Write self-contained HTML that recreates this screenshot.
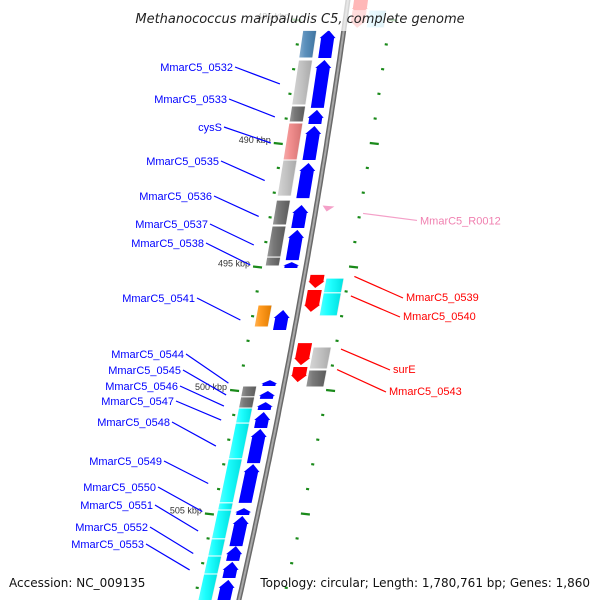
<!DOCTYPE html>
<html><head><meta charset="utf-8"><style>
html,body{margin:0;padding:0;background:#fff;}
svg{display:block;font-family:"Liberation Sans","DejaVu Sans",sans-serif;}
</style></head><body>
<svg id="map" width="600" height="600" viewBox="0 0 600 600">
<defs>
<linearGradient id="shade" x1="0" x2="1" y1="0" y2="0">
<stop offset="0" stop-color="#fff" stop-opacity="0.35"/>
<stop offset="0.35" stop-color="#fff" stop-opacity="0.12"/>
<stop offset="1" stop-color="#000" stop-opacity="0.12"/>
</linearGradient>
</defs>
<g id="ticks"></g>
<g id="feats"></g>
<g id="labels"></g>
<rect x="120" y="0" width="360" height="31" fill="#fff" opacity="0.72"/>
<text x="300" y="23" text-anchor="middle" font-size="13" font-style="italic" fill="#222" style="font-family:'DejaVu Sans',sans-serif">Methanococcus maripaludis C5, complete genome</text>
<text x="9" y="587" font-size="12" fill="#111" style="font-family:'DejaVu Sans',sans-serif">Accession: NC_009135</text>
<text x="590" y="587" text-anchor="end" font-size="12" fill="#111" style="font-family:'DejaVu Sans',sans-serif">Topology: circular; Length: 1,780,761 bp; Genes: 1,860</text>
</svg>
<script>
// ---- data (kbp positions) ----
const fwdArrowStart = [485.43,486.64,488.66,489.31,490.81,492.51,493.52,494.82,496.76,499.60,500.04,500.49,500.89,501.58,503.00,504.78,505.10,506.32,506.96,507.69];
const fwdArrowEnd   = [486.56,488.58,489.23,490.69,492.23,493.44,494.74,495.06,497.57,499.84,500.36,500.81,501.54,502.96,504.57,505.06,506.32,506.92,507.61,508.60];
const fwdBoxStart = [485.43,486.64,488.50,489.19,490.69,492.31,493.36,494.62,496.56,499.84,500.28,500.73,501.34,502.79,504.57,504.86,506.03,506.72,507.45];
const fwdBoxEnd   = [486.56,488.46,489.15,490.69,492.15,493.32,494.62,494.98,497.45,500.28,500.73,501.34,502.79,504.57,504.86,506.03,506.72,507.45,508.60];
const fwdBoxColor = ["#4682b4","#c0c0c0","#666666","#f08080","#c0c0c0","#666666","#666666","#666666","#ff8c00","#666666","#666666","#00ffff","#00ffff","#00ffff","#00ffff","#00ffff","#00ffff","#00ffff","#00ffff"];
const revArrowStart = [484.10,484.62,495.34,495.95,498.10,499.07];
const revArrowEnd   = [484.82,485.34,495.87,496.84,498.99,499.68];
const revArrowColor = ["#ff0000","#ff8080","#ff0000","#ff0000","#ff0000","#ff0000"];
const revBoxStart = [484.62,495.47,496.07,498.26,499.19];
const revBoxEnd   = [485.34,496.07,497.00,499.15,499.88];
const revBoxColor = ["#a0e8ff","#00ffff","#00ffff","#c0c0c0","#666666"];
const leftLabels = ["MmarC5_0532","MmarC5_0533","cysS","MmarC5_0535","MmarC5_0536","MmarC5_0537","MmarC5_0538","MmarC5_0541","MmarC5_0544","MmarC5_0545","MmarC5_0546","MmarC5_0547","MmarC5_0548","MmarC5_0549","MmarC5_0550","MmarC5_0551","MmarC5_0552","MmarC5_0553"];
const leftLabelGene = [1,2,3,4,5,6,7,8,9,10,11,12,13,14,15,16,17,18];
const rightLabels = ["MmarC5_0539","MmarC5_0540","surE","MmarC5_0543"];
const rightLabelGene = [2,3,4,5];
const rnaLabel = "MmarC5_R0012";
const rnaPos = 492.65;
const tickKbp = [485,490,495,500,505];
// ---- layout ----
const leftLabelY = [70,102,130,164,199,227,246,301,357,373,389,404,425,464,490,508,530,547];
const leftLabelX = [233,227,222,219,212,208,204,195,184,181,178,174,170,162,156,153,148,144];
const rightLabelY = [297,316,369,391];
const rightLabelX = [406,403,393,389];

const svgNS="http://www.w3.org/2000/svg";
function Y(k){return 143+(k-490)*24.7;}
function bx(y){return 347-0.138*y-0.000073*y*y;}
function P(u,y){return (bx(y)+u).toFixed(1)+","+y.toFixed(1);}
function mk(tag,attrs,parent){const e=document.createElementNS(svgNS,tag);for(const k in attrs)e.setAttribute(k,attrs[k]);parent.appendChild(e);return e;}
const feats=document.getElementById('feats'),ticks=document.getElementById('ticks'),labels=document.getElementById('labels');

let pts=[];for(let y=-5;y<=605;y+=5)pts.push(P(1,y));
let bb=mk('polyline',{points:pts.join(' '),fill:'none',stroke:'#6a6a6a','stroke-width':5},feats);


let bb2=mk('polyline',{points:pts.join(' '),fill:'none',stroke:'#a8a8a8','stroke-width':2},feats);



for(let k=484;k<=509;k++){
  const y=Y(k); if(y<-5||y>600)continue;
  const major=(k%5===0);
  const l=mk('line',{x1:bx(y)+(major?-52:-45),y1:y,x2:bx(y)+(major?-43:-42),y2:y+(major?1:0.5),stroke:'#1a8a1a','stroke-width':2.2},ticks);
  
  
  const r=mk('line',{x1:bx(y)+44,y1:y,x2:bx(y)+(major?53:47),y2:y+(major?1:0.5),stroke:'#1a8a1a','stroke-width':2.2},ticks);
  
  
}
tickKbp.forEach(k=>{
  const y=Y(k);
  const t=mk('text',{x:bx(y)-55,y:y,'text-anchor':'end','font-size':9,fill:'#333'},ticks);
  t.textContent=k+" kbp";
  
  
});

function quad(a,b,y0,y1,fill,parent){
  return mk('polygon',{points:[P(a,y0),P(b,y0),P(b,y1),P(a,y1)].join(' '),fill:fill,stroke:'#fff','stroke-width':1},parent);
}
function shade(a,b,y0,y1,parent){
  mk('polygon',{points:[P(a,y0),P(b,y0),P(b,y1),P(a,y1)].join(' '),fill:'url(#shade)'},parent);
}
fwdBoxStart.forEach((s,i)=>{
  const y0=Y(s),y1=Y(fwdBoxEnd[i]);
  const p=quad(-40,-26,y0,y1,fwdBoxColor[i],feats);
  
  
  shade(-40,-26,y0+0.5,y1-0.5,feats);
});
fwdArrowStart.forEach((s,i)=>{
  const y0=Y(s),y1=Y(fwdArrowEnd[i]);const h=Math.min(8,(y1-y0)*0.6);
  const a=-22,b=-6,m=-14;
  const p=mk('polygon',{points:[P(a+1.5,y1),P(a+1.5,y0+h),P(a,y0+h),P(m,y0),P(b,y0+h),P(b-1.5,y0+h),P(b-1.5,y1)].join(' '),fill:'#0000ff'},feats);
  
  
});
revBoxStart.forEach((s,i)=>{
  const y0=Y(s),y1=Y(revBoxEnd[i]);
  const p=quad(23,41,y0,y1,revBoxColor[i],feats);
  
  
  shade(23,41,y0+0.5,y1-0.5,feats);
});
revArrowStart.forEach((s,i)=>{
  const y0=Y(s),y1=Y(revArrowEnd[i]);const h=Math.min(7,(y1-y0)*0.5);
  const a=6,b=22,m=14;
  const p=mk('polygon',{points:[P(a+1,y0),P(b-1,y0),P(b-1,y1-h),P(b,y1-h),P(m,y1),P(a,y1-h),P(a+1,y1-h)].join(' '),fill:revArrowColor[i]},feats);
  
  
});
{const y=Y(rnaPos);
 const p=mk('polygon',{points:[P(7,y-3),P(19,y-2),P(12,y+3)].join(' '),fill:'#f4a0c8'},feats);
 
 
 const l=mk('line',{x1:bx(y)+48,y1:y+5,x2:417,y2:y+12,stroke:'#f4a0c8','stroke-width':1.2},labels);
 
 
 const t=mk('text',{x:420,y:y+16,'font-size':11,fill:'#f080b0'},labels);t.textContent=rnaLabel;
 
 }
leftLabels.forEach((n,i)=>{
  const g=leftLabelGene[i];const ym=(Y(fwdArrowStart[g])+Y(fwdArrowEnd[g]))/2;
  const tx=leftLabelX[i],ty=leftLabelY[i];
  const l=mk('line',{x1:tx+2,y1:ty-3,x2:bx(ym)-55,y2:ym,stroke:'#0000ff','stroke-width':1.2},labels);
  
  
  const t=mk('text',{x:tx,y:ty+1,'text-anchor':'end','font-size':11,fill:'#0000ff'},labels);t.textContent=n;
  
  
});
rightLabels.forEach((n,i)=>{
  const g=rightLabelGene[i];const ym=(Y(revArrowStart[g])+Y(revArrowEnd[g]))/2;
  const tx=rightLabelX[i],ty=rightLabelY[i];
  const l=mk('line',{x1:bx(ym)+52,y1:ym-5,x2:tx-3,y2:ty+1,stroke:'#ff0000','stroke-width':1.2},labels);
  
  
  const t=mk('text',{x:tx,y:ty+4,'font-size':11,fill:'#ff0000'},labels);t.textContent=n;
  
  
});
</script>
</body></html>
